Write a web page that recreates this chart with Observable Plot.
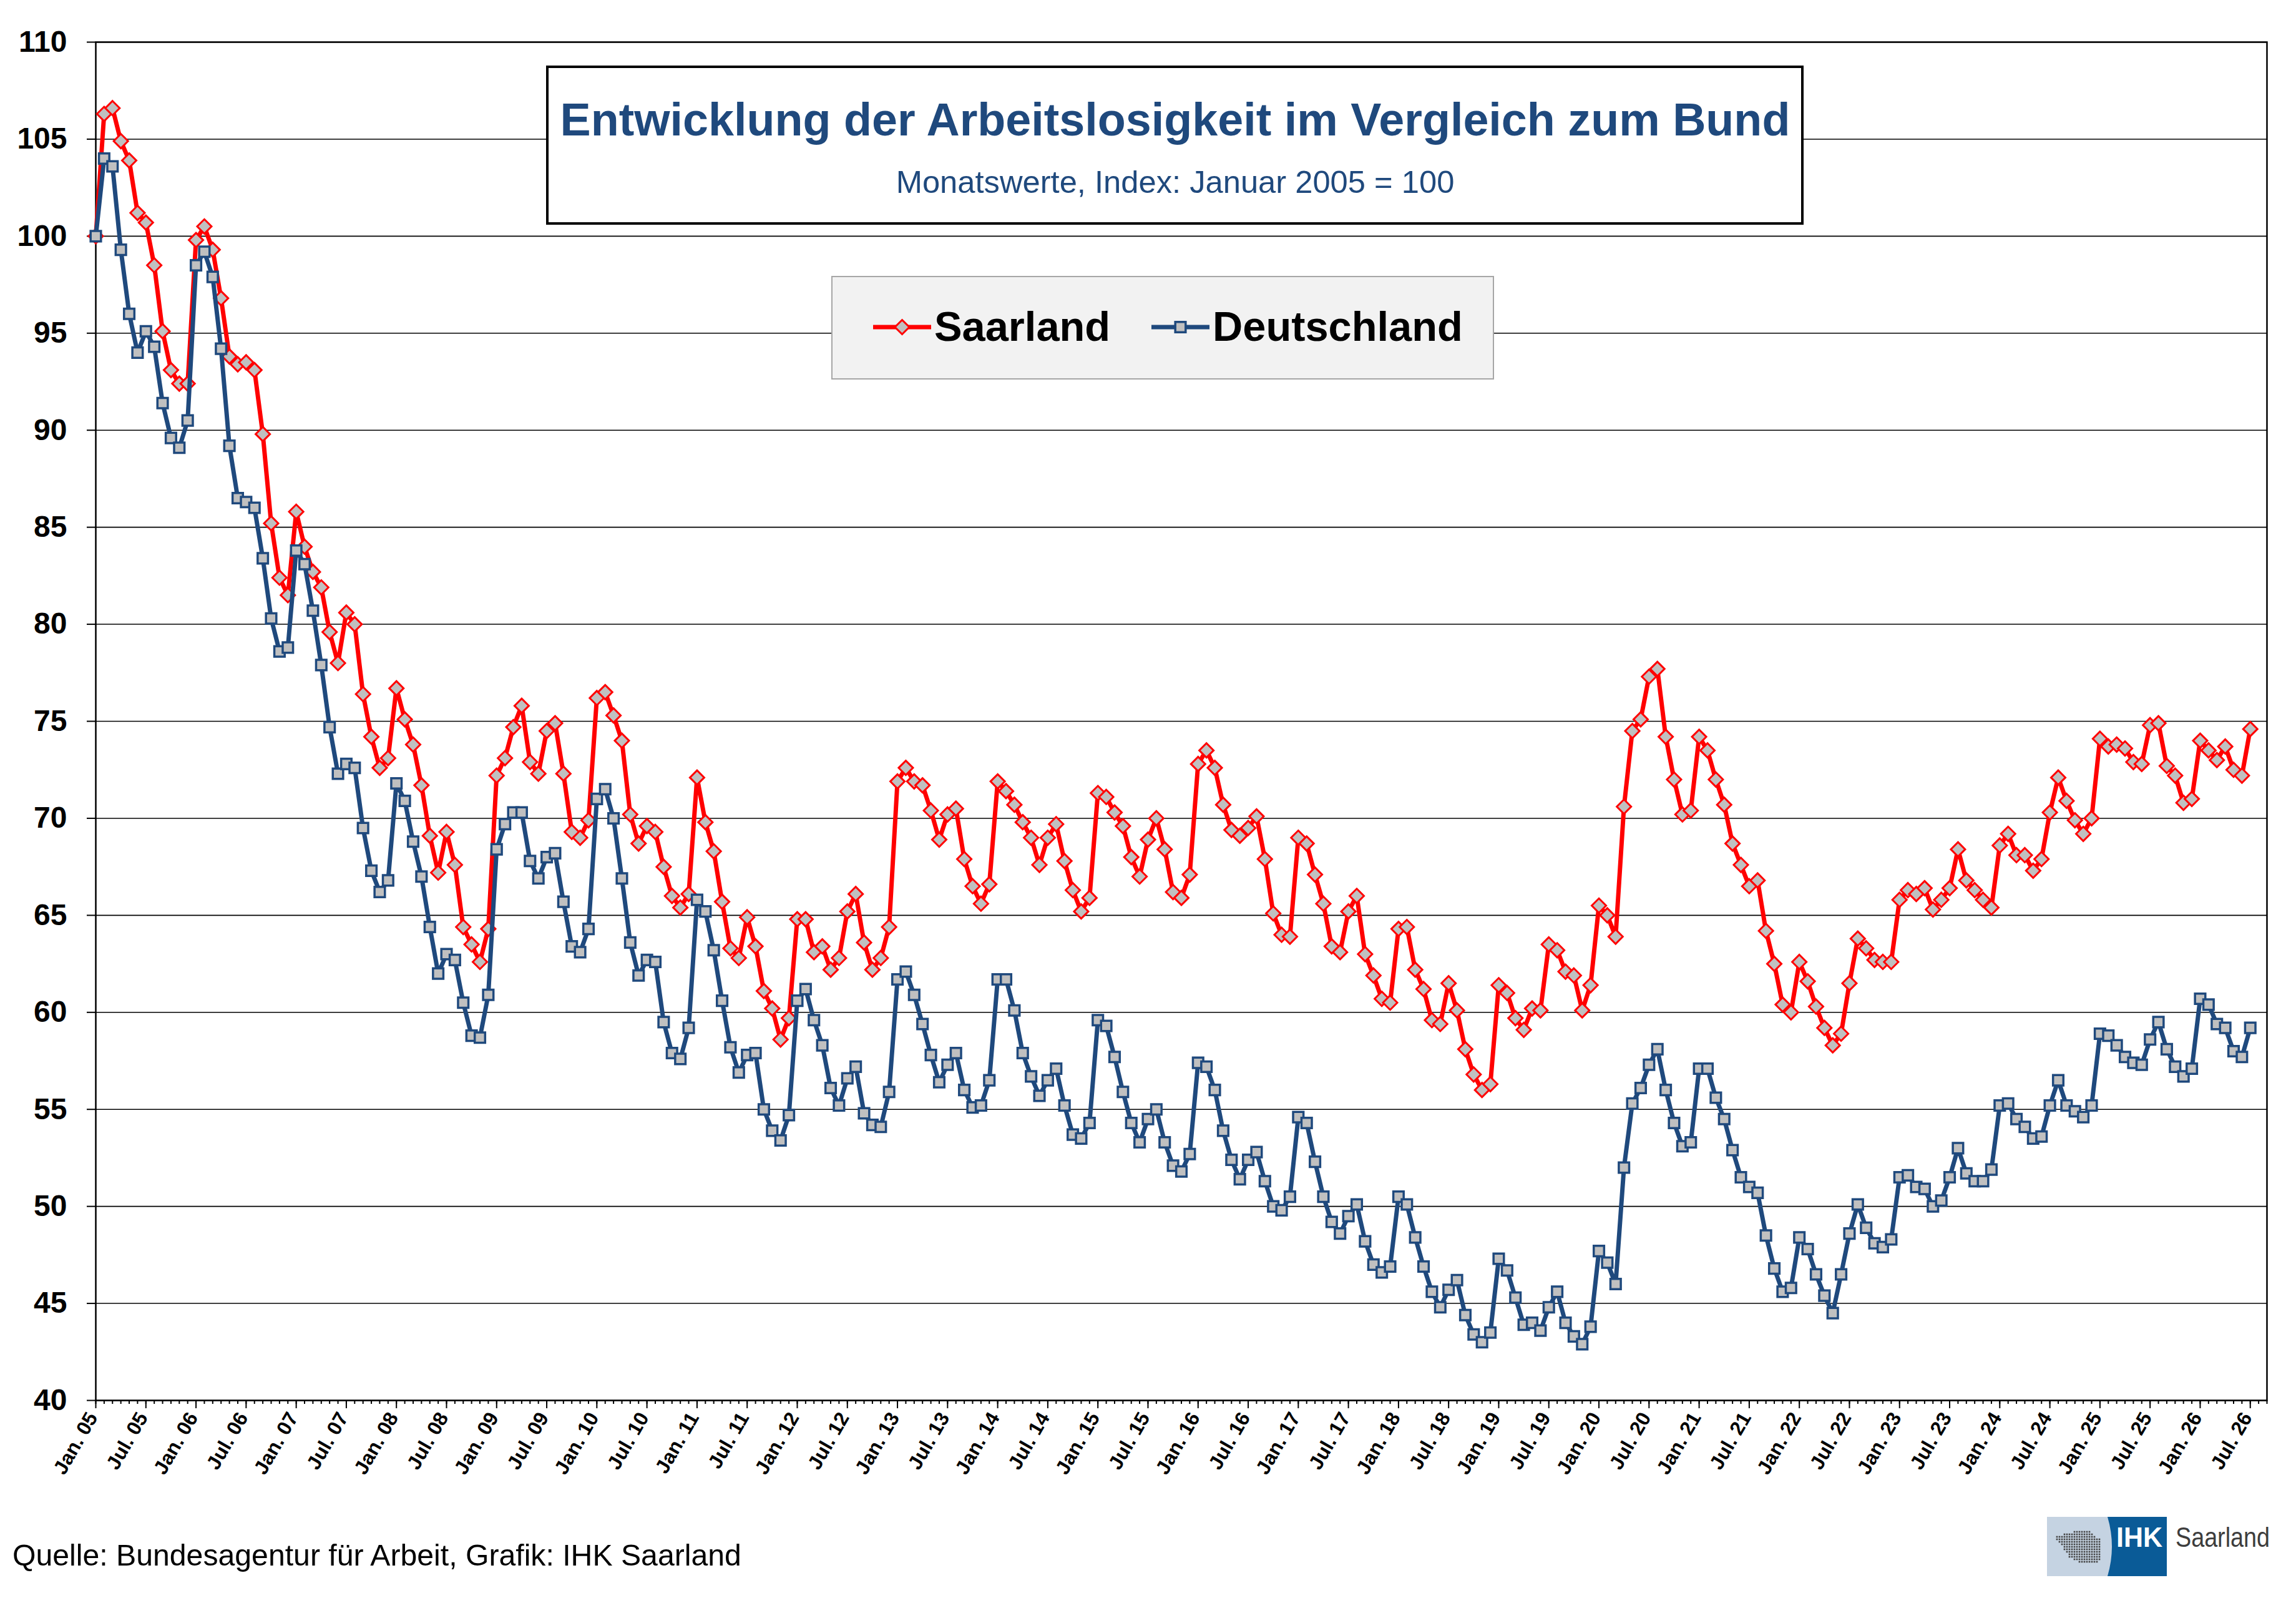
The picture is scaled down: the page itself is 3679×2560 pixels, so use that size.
<!DOCTYPE html>
<html>
<head>
<meta charset="utf-8">
<script src="https://cdn.jsdelivr.net/npm/d3@7"></script>
<script src="https://cdn.jsdelivr.net/npm/@observablehq/plot@0.6"></script>
<style>
html, body { margin: 0; padding: 0; background: #fff; }
#page { position: relative; width: 3679px; height: 2560px; overflow: hidden; background: #fff;
  font-family: "Liberation Sans", Arial, sans-serif; }
#page svg { position: absolute; left: 0; top: 0; }
</style>
</head>
<body>
<div id="page"></div>
<script>
// ---------- DATA (monthly index, Jan 2005 = 100) ----------
const saarland = [
  100.0,106.3,106.6,104.9,103.9,101.2,100.7,98.5,95.1,93.1,92.4,92.4,
  99.8,100.5,99.3,96.8,93.8,93.4,93.5,93.1,89.8,85.2,82.4,81.5,
  85.8,84.0,82.7,81.9,79.6,78.0,80.6,80.0,76.4,74.2,72.6,73.1,
  76.7,75.1,73.8,71.7,69.1,67.2,69.3,67.6,64.4,63.5,62.6,64.3,
  72.2,73.1,74.7,75.8,72.9,72.3,74.5,74.9,72.3,69.3,69.0,69.9,
  76.2,76.5,75.3,74.0,70.2,68.7,69.6,69.3,67.5,66.0,65.4,66.1,
  72.1,69.8,68.3,65.7,63.3,62.8,64.9,63.4,61.1,60.2,58.6,59.7,
  64.8,64.8,63.1,63.4,62.2,62.8,65.2,66.1,63.6,62.2,62.8,64.4,
  71.9,72.6,71.9,71.7,70.4,68.9,70.2,70.5,67.9,66.5,65.6,66.6,
  71.9,71.4,70.7,69.8,69.0,67.6,69.0,69.7,67.8,66.3,65.2,65.9,
  71.3,71.1,70.3,69.6,68.0,67.0,68.9,70.0,68.4,66.2,65.9,67.1,
  72.8,73.5,72.6,70.7,69.4,69.1,69.5,70.1,67.9,65.1,64.0,63.9,
  69.0,68.7,67.1,65.6,63.4,63.1,65.2,66.0,63.0,61.9,60.7,60.5,
  64.3,64.4,62.2,61.2,59.6,59.4,61.5,60.1,58.1,56.8,56.0,56.3,
  61.4,61.0,59.7,59.1,60.2,60.1,63.5,63.2,62.1,61.9,60.1,61.4,
  65.5,65.0,63.9,70.6,74.5,75.1,77.3,77.7,74.2,72.0,70.2,70.4,
  74.2,73.5,72.0,70.7,68.7,67.6,66.5,66.8,64.2,62.5,60.4,60.0,
  62.6,61.6,60.3,59.2,58.3,58.9,61.5,63.8,63.3,62.7,62.6,62.6,
  65.8,66.3,66.1,66.4,65.3,65.8,66.4,68.4,66.8,66.3,65.8,65.4,
  68.6,69.2,68.1,68.1,67.3,67.9,70.3,72.1,70.9,69.9,69.2,70.0,
  74.1,73.7,73.8,73.6,72.9,72.8,74.8,74.9,72.7,72.2,70.8,71.0,
  74.0,73.5,73.0,73.7,72.5,72.2,74.6
];
const deutschland = [
  100.0,104.0,103.6,99.3,96.0,94.0,95.1,94.3,91.4,89.6,89.1,90.5,
  98.5,99.2,97.9,94.2,89.2,86.5,86.3,86.0,83.4,80.3,78.6,78.8,
  83.8,83.1,80.7,77.9,74.7,72.3,72.8,72.6,69.5,67.3,66.2,66.8,
  71.8,70.9,68.8,67.0,64.4,62.0,63.0,62.7,60.5,58.8,58.7,60.9,
  68.4,69.7,70.3,70.3,67.8,66.9,68.0,68.2,65.7,63.4,63.1,64.3,
  71.0,71.5,70.0,66.9,63.6,61.9,62.7,62.6,59.5,57.9,57.6,59.2,
  65.8,65.2,63.2,60.6,58.2,56.9,57.8,57.9,55.0,53.9,53.4,54.7,
  60.6,61.2,59.6,58.3,56.1,55.2,56.6,57.2,54.8,54.2,54.1,55.9,
  61.7,62.1,60.9,59.4,57.8,56.4,57.3,57.9,56.0,55.1,55.2,56.5,
  61.7,61.7,60.1,57.9,56.7,55.7,56.5,57.1,55.2,53.7,53.5,54.3,
  59.6,59.3,57.7,55.9,54.3,53.3,54.5,55.0,53.3,52.1,51.8,52.7,
  57.4,57.2,56.0,53.9,52.4,51.4,52.4,52.8,51.3,50.0,49.8,50.5,
  54.6,54.3,52.3,50.5,49.2,48.6,49.5,50.1,48.2,47.0,46.6,46.9,
  50.5,50.1,48.4,46.9,45.6,44.8,45.7,46.2,44.4,43.4,43.0,43.5,
  47.3,46.7,45.3,43.9,44.0,43.6,44.8,45.6,44.0,43.3,42.9,43.8,
  47.7,47.1,46.0,52.0,55.3,56.1,57.3,58.1,56.0,54.3,53.1,53.3,
  57.1,57.1,55.6,54.5,52.9,51.5,51.0,50.7,48.5,46.8,45.6,45.8,
  48.4,47.8,46.5,45.4,44.5,46.5,48.6,50.1,48.9,48.1,47.9,48.3,
  51.5,51.6,51.0,50.9,50.0,50.3,51.5,53.0,51.7,51.3,51.3,51.9,
  55.2,55.3,54.5,54.1,53.5,53.6,55.2,56.5,55.2,54.9,54.6,55.2,
  58.9,58.8,58.3,57.7,57.4,57.3,58.6,59.5,58.1,57.2,56.7,57.1,
  60.7,60.4,59.4,59.2,58.0,57.7,59.2
];
const tickLabels = [
  "Jan. 05","Jul. 05","Jan. 06","Jul. 06","Jan. 07","Jul. 07","Jan. 08","Jul. 08",
  "Jan. 09","Jul. 09","Jan. 10","Jul. 10","Jan. 11","Jul. 11","Jan. 12","Jul. 12",
  "Jan. 13","Jul. 13","Jan. 14","Jul. 14","Jan. 15","Jul. 15","Jan. 16","Jul. 16",
  "Jan. 17","Jul. 17","Jan. 18","Jul. 18","Jan. 19","Jul. 19","Jan. 20","Jul. 20",
  "Jan. 21","Jul. 21","Jan. 22","Jul. 22","Jan. 23","Jul. 23","Jan. 24","Jul. 24",
  "Jan. 25","Jul. 25","Jan. 26","Jul. 26"
];
const yTicks = [40,45,50,55,60,65,70,75,80,85,90,95,100,105,110];
const seriesNames = ["Saarland", "Deutschland"];
const titleText = "Entwicklung der Arbeitslosigkeit im Vergleich zum Bund";
const subtitleText = "Monatswerte, Index: Januar 2005 = 100";
const sourceText = "Quelle: Bundesagentur für Arbeit, Grafik: IHK Saarland";
const logoWord = "IHK";
const logoName = "Saarland";

// ---------- STYLE ----------
const RED = "#FF0000", BLUE = "#1F497D", MARK_FILL = "#C0C0C0";
const W = 3679, H = 2400;
const nCategories = saarland.length + 2; // category axis runs past the last value

const sRows = saarland.map((v, i) => ({m: i, v}));
const dRows = deutschland.map((v, i) => ({m: i, v}));
const majorIdx = tickLabels.map((_, i) => i * 6);
const allMonths = d3.range(0, nCategories);

const diamondSym = {draw(ctx, size) { const r = Math.sqrt(size / Math.PI);
  ctx.moveTo(0, -r); ctx.lineTo(r, 0); ctx.lineTo(0, r); ctx.lineTo(-r, 0); ctx.closePath(); }};
const squareSym = {draw(ctx, size) { const r = Math.sqrt(size / Math.PI);
  ctx.rect(-r, -r, 2 * r, 2 * r); }};

const chart = Plot.plot({
  width: W, height: H,
  marginTop: 67, marginBottom: H - 2243, marginLeft: 153, marginRight: W - 3632,
  x: {domain: [0, nCategories - 1]},
  y: {domain: [40, 110]},
  style: {fontFamily: "'Liberation Sans', Arial, sans-serif", color: "#000", background: "transparent", overflow: "visible"},
  marks: [
    Plot.gridY(yTicks, {stroke: "#000", strokeOpacity: 1, strokeWidth: 1.6}),
    Plot.frame({stroke: "#000", strokeWidth: 2.5}),
    Plot.axisY({ticks: yTicks, tickSize: 14, tickPadding: 32, fontSize: 48, fontWeight: "bold",
      label: null, strokeWidth: 2, tickFormat: d => String(d)}),
    Plot.axisX({ticks: allMonths, tickSize: 6, tickFormat: () => "", label: null, strokeWidth: 2}),
    Plot.axisX({ticks: majorIdx, tickSize: 13, tickFormat: () => "", label: null, strokeWidth: 2}),
    Plot.text(majorIdx, {x: d => d, text: (d, i) => tickLabels[i], frameAnchor: "bottom",
      rotate: -60, textAnchor: "end", dx: 4, dy: 27, fontSize: 32, fontWeight: "bold", fill: "#000"}),
    Plot.line(sRows, {x: "m", y: "v", stroke: RED, strokeWidth: 7, strokeLinejoin: "round"}),
    Plot.dot(sRows, {x: "m", y: "v", symbol: diamondSym, r: 11.5, fill: MARK_FILL, stroke: RED, strokeWidth: 3}),
    Plot.line(dRows, {x: "m", y: "v", stroke: BLUE, strokeWidth: 7, strokeLinejoin: "round"}),
    Plot.dot(dRows, {x: "m", y: "v", symbol: squareSym, r: 8.3, fill: MARK_FILL, stroke: BLUE, strokeWidth: 3.5})
  ]
});
document.getElementById("page").appendChild(chart);

// ---------- OVERLAY: title box, legend, source, logo ----------
const ov = d3.select("#page").append("svg").attr("width", W).attr("height", 2560)
  .style("font-family", "'Liberation Sans', Arial, sans-serif");

ov.append("rect").attr("x", 877).attr("y", 107).attr("width", 2011).attr("height", 251)
  .attr("fill", "#fff").attr("stroke", "#000").attr("stroke-width", 4);
ov.append("text").attr("x", 1883).attr("y", 217).attr("text-anchor", "middle")
  .attr("font-size", 73.7).attr("font-weight", "bold").attr("fill", BLUE).text(titleText);
ov.append("text").attr("x", 1883).attr("y", 309).attr("text-anchor", "middle")
  .attr("font-size", 50.7).attr("fill", BLUE).text(subtitleText);

// legend
ov.append("rect").attr("x", 1333).attr("y", 443).attr("width", 1060).attr("height", 164)
  .attr("fill", "#F2F2F2").attr("stroke", "#A6A6A6").attr("stroke-width", 2);
const legendItems = [
  {name: seriesNames[0], color: RED, x0: 1399, path: "M0,-11.5L11.5,0L0,11.5L-11.5,0Z", sw: 3},
  {name: seriesNames[1], color: BLUE, x0: 1845, path: "M-8.3,-8.3H8.3V8.3H-8.3Z", sw: 3.5}
];
for (const it of legendItems) {
  ov.append("line").attr("x1", it.x0).attr("x2", it.x0 + 93).attr("y1", 524).attr("y2", 524)
    .attr("stroke", it.color).attr("stroke-width", 7);
  ov.append("path").attr("d", it.path).attr("transform", `translate(${it.x0 + 46.5},524)`)
    .attr("fill", MARK_FILL).attr("stroke", it.color).attr("stroke-width", it.sw);
  ov.append("text").attr("x", it.x0 + 98).attr("y", 546).attr("font-size", 66.8)
    .attr("font-weight", "bold").attr("fill", "#000").text(it.name);
}

// source line
ov.append("text").attr("x", 20).attr("y", 2508).attr("font-size", 48.2).attr("fill", "#000").text(sourceText);

// logo
const lg = ov.append("g").attr("transform", "translate(3280,2430)");
lg.append("rect").attr("width", 192).attr("height", 95).attr("fill", "#C5D3E2");
lg.append("path").attr("d", "M97,0 Q111,47.5 97,95 L192,95 L192,0 Z").attr("fill", "#0A5B97");
const poly = [[51.5,20.7],[68,20.7],[79,31.7],[86.7,36.7],[86.7,56.7],[83,75],[64.4,75],[49.6,71.7],
  [36.7,66.7],[27.4,53.3],[21.9,41.7],[12.6,36.7],[12.6,30],[34.8,26.7],[42.2,23.3]];
for (let gx = 12; gx <= 88; gx += 4) for (let gy = 20; gy <= 76; gy += 4) {
  if (d3.polygonContains(poly, [gx, gy]))
    lg.append("rect").attr("x", gx - 1.3).attr("y", gy - 1.3).attr("width", 2.6).attr("height", 2.6).attr("fill", "#444");
}
lg.append("text").attr("x", 111).attr("y", 48).attr("font-size", 44).attr("font-weight", "bold")
  .attr("fill", "#fff").attr("textLength", 74).attr("lengthAdjust", "spacingAndGlyphs").text(logoWord);
lg.append("text").attr("x", 206).attr("y", 48).attr("font-size", 44).attr("fill", "#3D3D3D")
  .attr("textLength", 151).attr("lengthAdjust", "spacingAndGlyphs").text(logoName);
</script>
</body>
</html>
